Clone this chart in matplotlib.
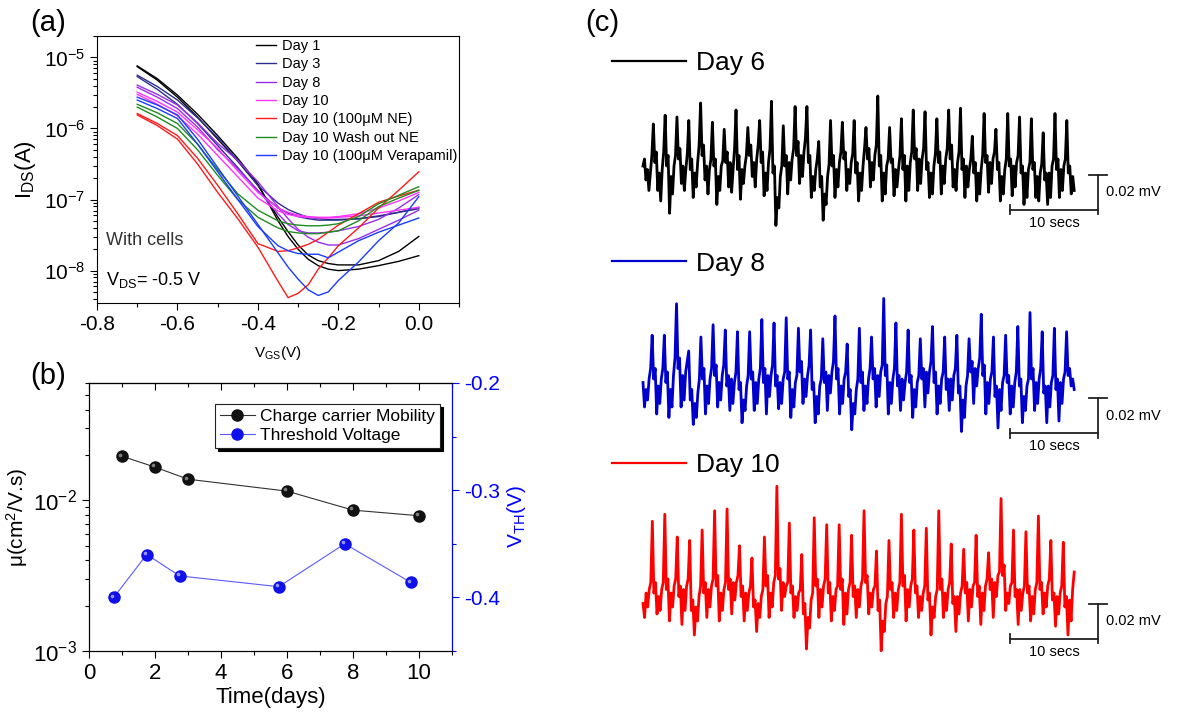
import numpy as np
import matplotlib
matplotlib.use("Agg")
import matplotlib.pyplot as plt
from matplotlib.ticker import MultipleLocator, FixedLocator, FormatStrFormatter
from matplotlib.transforms import offset_copy

plt.rcParams['font.family'] = ['Liberation Sans', 'DejaVu Sans']
plt.rcParams['mathtext.fontset'] = 'custom'
plt.rcParams['mathtext.rm'] = 'Liberation Sans'
plt.rcParams['mathtext.it'] = 'Liberation Sans:italic'
plt.rcParams['axes.unicode_minus'] = False

# ---- (a) transfer curves, log10(I_DS / A) vs V_GS, two sweeps per condition
vgs = [-0.70, -0.65, -0.60, -0.55, -0.50, -0.45, -0.40, -0.35, -0.325,
       -0.30, -0.275, -0.25, -0.225, -0.20, -0.15, -0.10, -0.05, 0.00]

day1 = [[-5.12, -5.30, -5.53, -5.80, -6.10, -6.42, -6.78, -7.30, -7.52,
         -7.70, -7.84, -7.93, -7.98, -8.00, -7.98, -7.93, -7.87, -7.79],
        [-5.13, -5.32, -5.56, -5.84, -6.15, -6.46, -6.80, -7.25, -7.45,
         -7.64, -7.78, -7.86, -7.90, -7.92, -7.92, -7.86, -7.73, -7.52]]
day3 = [[-5.25, -5.41, -5.60, -5.85, -6.13, -6.45, -6.80, -7.05, -7.14,
         -7.20, -7.25, -7.27, -7.28, -7.28, -7.27, -7.24, -7.18, -7.11],
        [-5.27, -5.45, -5.66, -5.93, -6.24, -6.55, -6.88, -7.12, -7.19,
         -7.24, -7.27, -7.29, -7.29, -7.29, -7.27, -7.23, -7.18, -7.13]]
day8 = [[-5.39, -5.52, -5.67, -5.92, -6.21, -6.45, -6.75, -7.10, -7.27,
         -7.42, -7.53, -7.60, -7.64, -7.64, -7.55, -7.42, -7.29, -7.15],
        [-5.42, -5.56, -5.72, -5.98, -6.30, -6.57, -6.87, -7.20, -7.35,
         -7.44, -7.47, -7.47, -7.46, -7.44, -7.38, -7.28, -7.12, -6.93]]
day10 = [[-5.49, -5.62, -5.77, -6.02, -6.28, -6.60, -6.90, -7.12, -7.18,
          -7.22, -7.24, -7.25, -7.25, -7.24, -7.20, -7.12, -7.02, -6.90],
         [-5.52, -5.66, -5.82, -6.08, -6.38, -6.68, -6.98, -7.16, -7.21,
          -7.24, -7.25, -7.26, -7.26, -7.25, -7.23, -7.19, -7.15, -7.11]]
day10_ne = [[-5.79, -5.93, -6.10, -6.42, -6.80, -7.20, -7.62, -7.73, -7.72,
             -7.68, -7.63, -7.56, -7.46, -7.36, -7.20, -7.04, -6.95, -6.87],
            [-5.81, -5.96, -6.15, -6.50, -6.90, -7.27, -7.67, -8.15, -8.38,
             -8.32, -8.20, -7.98, -7.82, -7.65, -7.40, -7.12, -6.87, -6.61]]
day10_wash = [[-5.66, -5.78, -5.93, -6.22, -6.58, -6.92, -7.15, -7.30, -7.34,
               -7.36, -7.37, -7.37, -7.36, -7.34, -7.24, -7.06, -6.94, -6.82],
              [-5.70, -5.84, -6.00, -6.30, -6.66, -7.00, -7.25, -7.40, -7.45,
               -7.47, -7.48, -7.48, -7.46, -7.44, -7.30, -7.10, -6.98, -6.87]]
day10_vera = [[-5.56, -5.67, -5.81, -6.15, -6.55, -6.95, -7.35, -7.75, -7.95,
               -8.12, -8.27, -8.35, -8.30, -8.14, -7.88, -7.58, -7.33, -6.96],
              [-5.60, -5.72, -5.86, -6.22, -6.61, -7.00, -7.38, -7.65, -7.72,
               -7.76, -7.77, -7.77, -7.82, -7.74, -7.58, -7.46, -7.36, -7.26]]

transfer_sets = [day1, day3, day8, day10, day10_ne, day10_wash, day10_vera]
transfer_labels = ['Day 1', 'Day 3', 'Day 8', 'Day 10', 'Day 10 (100μM NE)',
                   'Day 10 Wash out NE', 'Day 10 (100μM Verapamil)']
transfer_colors = ['#000000', '#2e2e8f', '#9a2cf0', '#ff33ff', '#ff1a1a',
                   '#1e8c1e', '#1a3cff']

# ---- (b) mobility and threshold voltage over time
days_mu = [1, 2, 3, 6, 8, 10]
mobility = [0.0196, 0.0166, 0.0138, 0.0115, 0.0086, 0.0079]
days_vth = [0.75, 1.75, 2.75, 5.75, 7.75, 9.75]
vth = [-0.400, -0.360, -0.380, -0.390, -0.350, -0.386]

# ---- (c) extracellular recordings (uV, baseline removed), evenly sampled
record_len = 49.0  # s
trace_day6 = [
    8, 12, 0, 6, -6, 4, 14,
    32, 10, 16, -6, 4, -12, 6, 16, 37, 8, 14, -19, 2, -8, 8, 14,
    36, 12, 18, -2, 8, -6, 6, 15, 34, 6, 12, -10, 4, -4, 10, 20,
    44, 14, 20, 0, 8, -8, 6, 12, 33, 8, 12, -14, 2, -6, 8, 11,
    29, 10, 16, -4, 10, -7, 6, 18, 40, 6, 14, -11, 6, -2, 8, 14,
    30, 14, 20, 2, 10, -4, 12, 20, 34, 10, 16, -9, 4, -6, 10, 18,
    45, 4, 8, -26, -10, -16, 2, 8, 31, 8, 14, -8, 10, 0, 12, 18,
    42, 14, 22, -2, 14, 2, 16, 24, 42, 10, 14, -10, 2, -6, 6, 12,
    22, -4, 2, -23, -8, -14, 2, 9, 34, 8, 14, -10, 6, -4, 10, 16,
    33, 12, 16, -6, 6, -2, 10, 15, 34, 4, 10, -12, 4, -6, 8, 18,
    30, 12, 18, -4, 10, 0, 14, 20, 48, 8, 14, -12, 4, -8, 8, 12,
    30, 10, 12, -9, 6, -4, 6, 14, 35, 6, 14, -12, 8, -6, 10, 16,
    40, 12, 18, -6, 12, -2, 12, 18, 39, 6, 10, -10, 4, -8, 8, 15,
    35, 10, 16, -8, 8, -2, 12, 18, 40, 12, 20, -4, 6, -6, 10, 16,
    41, 6, 12, -10, 8, -4, 6, 12, 25, 4, 10, -12, 4, -8, 6, 14,
    38, 10, 14, -7, 10, -2, 12, 16, 29, 6, 10, -12, 2, -8, 6, 12,
    38, 8, 12, -9, 8, -4, 10, 14, 36, 4, 8, -14, 4, -10, 6, 10,
    35, 6, 10, -10, 2, -12, 4, 9, 27, 0, 4, -14, 4, -10, 8, 12,
    38, 6, 12, -10, 6, -6, 8, 12, 34, 4, 8, -8, 2, -6]
trace_day8 = [
    6, -8, 2, -4, 8, 14,
    33, 8, 14, -12, 4, -6, 8, 14, 33, 6, 12, -14, 2, -8, 10, 20,
    51, 14, 20, -8, 10, -4, 12, 18, 24, -4, 2, -18, -6, -14, 0, 8,
    32, 8, 14, -12, 4, -6, 8, 14, 39, 10, 16, -8, 6, -4, 10, 16,
    36, 4, 10, -10, 8, -6, 6, 12, 35, 2, 6, -17, -4, -10, 4, 10,
    35, 8, 12, -10, 6, -6, 8, 14, 42, 6, 14, -12, 10, -2, 10, 16,
    40, 4, 10, -9, 6, -6, 8, 12, 43, 8, 12, -14, 2, -8, 6, 10,
    37, 12, 18, -6, 8, -2, 10, 16, 36, 2, 6, -17, -2, -12, 4, 8,
    31, 6, 12, -10, 10, 0, 12, 18, 44, 8, 14, -12, 4, -6, 8, 12,
    28, -2, 2, -21, -6, -12, 2, 8, 37, 6, 12, -10, 4, -6, 8, 14,
    32, 8, 14, -8, 10, -2, 12, 16, 54, 10, 16, -12, 6, -6, 8, 14,
    40, 4, 10, -10, 8, -4, 6, 12, 36, 6, 10, -14, 2, -8, 6, 10,
    31, 8, 14, -8, 12, 0, 12, 18, 38, 6, 12, -12, 4, -6, 8, 12,
    32, 2, 8, -10, 8, -4, 10, 14, 33, 0, 4, -22, -4, -14, 4, 10,
    31, 12, 18, -6, 14, 4, 14, 20, 45, 10, 16, -12, 6, -6, 8, 12,
    32, -2, 4, -20, 2, -10, 6, 10, 33, 6, 10, -12, 4, -8, 6, 12,
    38, 4, 8, -17, -2, -10, 4, 8, 46, 8, 14, -10, 6, -6, 8, 14,
    35, 0, 4, -17, 4, -8, 6, 10, 37, 2, 8, -16, 6, -6, 8, 12,
    35, 10, 14, 4, 8, 2]
trace_day10 = [
    -2, -10, 4, -4, 6, 10,
    45, 4, 10, -8, 2, -6, 6, 10, 49, 6, 12, -12, 4, -4, 8, 12,
    36, 2, 8, -14, 6, -6, 8, 12, 34, -6, 0, -20, -4, -12, 2, 8,
    40, 4, 10, -10, 6, -4, 8, 12, 51, 8, 14, -12, 4, -6, 6, 10,
    52, 6, 12, -8, 10, 0, 10, 14, 31, 2, 8, -12, 4, -6, 4, 8,
    24, -4, 0, -18, -2, -10, 2, 6, 36, 8, 14, -10, 4, -4, 10, 14,
    65, 12, 18, -6, 10, 2, 8, 10, 44, 4, 8, -10, 2, -6, 4, 6,
    26, -8, -2, -28, -10, -16, 0, 4, 47, 8, 12, -10, 6, -4, 8, 12,
    43, 4, 10, -12, 2, -6, 6, 8, 43, 6, 12, -14, 4, -8, 6, 10,
    37, 2, 8, -10, 6, -4, 8, 12, 51, 10, 14, -8, 4, -4, 6, 8,
    28, -6, 0, -29, -12, -18, -2, 2, 34, 6, 10, -10, 4, -6, 6, 10,
    49, 8, 14, -12, 6, -4, 8, 12, 40, 4, 8, -10, 2, -6, 4, 8,
    41, 0, 4, -20, -4, -10, 2, 6, 51, 6, 12, -10, 4, -6, 6, 10,
    32, -2, 2, -18, 2, -8, 4, 8, 29, 4, 10, -12, 6, -4, 8, 10,
    37, 2, 8, -14, 4, -6, 8, 12, 27, 6, 12, -10, 10, 2, 14, 16,
    58, 14, 20, -6, 4, -2, 8, 10, 40, 2, 6, -14, 6, -6, 4, 8,
    39, 4, 8, -12, 2, -8, 6, 10, 48, 6, 10, -8, 4, -4, 8, 12,
    34, 0, 4, -15, 2, -8, 4, 8, 33, -4, 2, -20, 0, -12, 6, 16]
trace_names = ['Day 6', 'Day 8', 'Day 10']
trace_colors = ['#000000', '#0000cc', '#ff0000']

W, H = 1185, 717
fig = plt.figure(figsize=(W / 100, H / 100), dpi=100)


def px_rect(left, top, right, bottom):
    return [left / W, 1 - bottom / H, (right - left) / W, (bottom - top) / H]


# ================= (a)
ax_a = fig.add_axes(px_rect(97, 36, 459, 303))
for sweeps, lab, col in zip(transfer_sets, transfer_labels, transfer_colors):
    for k, sweep in enumerate(sweeps):
        ax_a.plot(vgs, 10.0 ** np.array(sweep), color=col, lw=1.0,
                  label=lab if k == 0 else None)
ax_a.set_yscale('log')
ax_a.set_xlim(-0.8, 0.1)
ax_a.set_ylim(3.5e-9, 2e-5)
ax_a.xaxis.set_major_locator(FixedLocator([-0.8, -0.6, -0.4, -0.2, 0.0]))
ax_a.xaxis.set_major_formatter(FormatStrFormatter('%.1f'))
ax_a.xaxis.set_minor_locator(MultipleLocator(0.1))
ax_a.tick_params(which='both', direction='out', labelsize=15, width=0.8)
ax_a.tick_params(which='major', length=5)
ax_a.tick_params(which='minor', length=3)
ax_a.set_xlabel(r'V$_{\mathrm{GS}}$(V)', fontsize=11, labelpad=7)
ax_a.set_ylabel(r'I$_{\mathrm{DS}}$(A)', fontsize=16, labelpad=4)
ax_a.text(0.025, 0.235, 'With cells', transform=ax_a.transAxes,
          fontsize=13, color='#333333', va='center')
ax_a.text(0.025, 0.085, r'V$_{\mathrm{DS}}$= -0.5 V', transform=ax_a.transAxes,
          fontsize=13, va='center')
ax_a.legend(loc='upper left', bbox_to_anchor=(0.43, 1.0), frameon=False,
            fontsize=10.5, handlelength=1.4, handletextpad=0.4,
            labelspacing=0.3, borderpad=0.2, borderaxespad=0)

# ================= (b)
ax_b = fig.add_axes(px_rect(89, 383, 452, 651))
ax_v = ax_b.twinx()


def sphere(ax, x, y, face, shine, line_col, label):
    h, = ax.plot(x, y, '-', color=line_col, lw=0.8, marker='o', ms=8,
                 mfc=face, mec=face, label=label)
    glint = offset_copy(ax.transData, fig=fig, x=-1.2, y=1.2, units='points')
    ax.plot(x, y, ls='none', marker='o', ms=2.6, mfc=shine, mec='none',
            alpha=0.8, transform=glint)
    return h


h_mu = sphere(ax_b, days_mu, mobility, '#111111', '#9a9a9a', '#333333',
              'Charge carrier Mobility')
h_vt = sphere(ax_v, days_vth, vth, '#1010e8', '#b8b8ff', '#5a5aff',
              'Threshold Voltage')

ax_b.set_yscale('log')
ax_b.set_xlim(0, 11)
ax_b.set_ylim(1e-3, 0.06)
ax_b.xaxis.set_major_locator(MultipleLocator(2))
ax_b.xaxis.set_minor_locator(MultipleLocator(1))
ax_b.tick_params(which='both', direction='out', labelsize=16, width=0.8)
ax_b.tick_params(which='major', length=5)
ax_b.tick_params(which='minor', length=3)
ax_b.set_xlabel('Time(days)', fontsize=16, labelpad=2)
ax_b.set_ylabel('μ(cm$^2$/V.s)', fontsize=15, labelpad=2)
top = ax_b.secondary_xaxis('top')
top.xaxis.set_major_locator(MultipleLocator(2))
top.xaxis.set_minor_locator(MultipleLocator(1))
top.tick_params(which='both', direction='in', labeltop=False, width=0.8)
top.tick_params(which='major', length=5)
top.tick_params(which='minor', length=3)

ax_v.set_ylim(-0.45, -0.2)
ax_v.yaxis.set_major_locator(MultipleLocator(0.1))
ax_v.yaxis.set_minor_locator(MultipleLocator(0.05))
ax_v.yaxis.set_major_formatter(FormatStrFormatter('%.1f'))
ax_v.tick_params(which='both', direction='out', colors='blue', labelsize=15,
                 width=0.8)
ax_v.tick_params(which='major', length=5)
ax_v.tick_params(which='minor', length=3)
ax_v.spines['right'].set_color('blue')
ax_v.set_ylabel(r'V$_{\mathrm{TH}}$(V)', fontsize=15, color='blue', labelpad=4)

leg = ax_v.legend([h_mu, h_vt], ['Charge carrier Mobility', 'Threshold Voltage'],
                  loc='upper right', bbox_to_anchor=(0.967, 0.922),
                  fontsize=12.5, fancybox=False, edgecolor='#222222',
                  shadow={'color': 'black', 'alpha': 1.0},
                  handlelength=2.0, handletextpad=0.3, labelspacing=0.2,
                  borderpad=0.3, borderaxespad=0, framealpha=1)
leg.get_frame().set_linewidth(0.8)

# ================= (c)
baselines = [180, 393, 600]       # px of each trace's zero line
key_levels = [67, 74, 77]         # uV, height of the "—— Day n" key
bar_levels = [-17, -23, -22]      # uV, horizontal scale bar
traces = [trace_day6, trace_day8, trace_day10]
t_left, t_right = (600 - 643) / 8.8, (1185 - 643) / 8.8

for trace, name, col, base, key_y, bar_y in zip(traces, trace_names,
                                                trace_colors, baselines,
                                                key_levels, bar_levels):
    ax = fig.add_axes(px_rect(600, base - 140, 1185, base + 70))
    ax.patch.set_alpha(0)
    t = np.linspace(0, record_len, len(trace))
    ax.plot(t, trace, color=col, lw=2.0, label=name)
    ax.set_xlim(t_left, t_right)
    ax.set_ylim(-40, 80)
    ax.axis('off')
    leg_c = ax.legend(loc='center left',
                      bbox_to_anchor=(0.02, (key_y + 40) / 120),
                      frameon=False, fontsize=19, handlelength=2.8,
                      handletextpad=0.4, borderpad=0, borderaxespad=0)
    for ln in leg_c.get_lines():
        ln.set_linewidth(1.6)
    # 10 s / 20 uV scale bar
    x0, x1 = 41.7, 51.7
    ax.plot([x0, x1], [bar_y, bar_y], color='#222222', lw=1.3)
    ax.plot([x0, x0], [bar_y - 2.5, bar_y + 2.5], color='#222222', lw=1.3)
    ax.plot([x1, x1], [bar_y - 2.5, bar_y + 20], color='#222222', lw=1.3)
    ax.plot([x1 - 1.0, x1 + 1.0], [bar_y + 20, bar_y + 20], color='#222222',
            lw=1.3)
    ax.text(x1 + 0.9, bar_y + 10, '0.02 mV', fontsize=10.5, va='center',
            ha='left')
    ax.text((x0 + x1) / 2, bar_y - 3.5, '10 secs', fontsize=10.5, va='top',
            ha='center')

# panel letters
for txt, x, y in [('(a)', 30, 23), ('(b)', 30, 376), ('(c)', 585, 23)]:
    fig.text(x / W, 1 - y / H, txt, fontsize=21, va='center', ha='left')

fig.savefig('out.png', dpi=100)
